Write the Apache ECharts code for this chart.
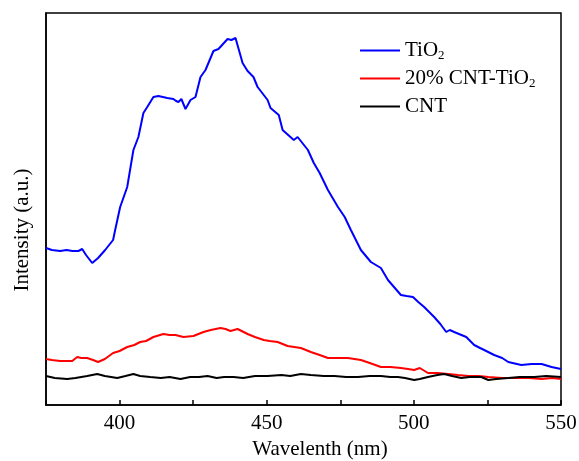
<!DOCTYPE html>
<html><head><meta charset="utf-8">
<script src="https://cdn.jsdelivr.net/npm/echarts@6/dist/echarts.min.js"></script>
<style>html,body{margin:0;padding:0;background:#fff}#c{width:579px;height:461px}</style>
</head><body><div id="c"></div>
<script>
const seriesNames = ['TiO2', '20% CNT-TiO2', 'CNT'];
const xTickLabels = [400, 450, 500, 550];
const tio2 = [[375,157],[377,155],[379.8,154],[382,155],[384,154],[386,154],[387.3,156],[388.6,150],[390.7,142],[392.7,147],[395.1,155],[397.8,165],[398.5,175],[400.2,198],[402.6,218],[404.7,255],[406.4,268],[408.1,292],[409.4,298],[411.5,308],[413.2,309],[416.2,307],[418.3,306],[419.2,304],[420,303],[421,306],[422.4,296],[424.1,305],[425.8,308],[427.5,328],[429.2,335],[431.9,354],[433.6,356],[436.7,366],[438,365],[439.4,367],[441.8,342],[443.5,334],[445.5,328],[446.9,318],[450.3,305],[451.3,297],[454.1,290],[455.4,275],[459.2,265],[460.5,268],[464,255],[466,242],[468,232],[470.8,215],[474.2,198],[476.5,188],[478.6,175],[482,155],[485.4,143],[488.8,137],[491.2,125],[495.6,110],[497.5,109],[499.7,108],[501.5,103],[503.5,98],[506.9,88],[509,81],[511,73],[512.2,75],[513.7,73],[517.8,68],[520.5,60],[522.5,57],[523.9,55],[527.3,50],[530,47],[532.1,43],[536.5,40],[540,41],[543.4,41],[546.8,38],[550,36]];
const cnt_tio2 = [[375,46],[377,45],[379.8,44],[383.9,44],[385.6,48],[387,47],[389,47],[391,45],[392.7,43],[395,46],[397.8,52],[400,54],[402.6,58],[405,60],[407,63],[409,64],[411.5,68],[414.9,71],[417,70],[419,70],[421.7,68],[425.1,69],[428.5,73],[431,75],[434.3,77],[436,76],[437.7,74],[440.1,76],[443.5,71],[446,68],[449,65],[451,64],[453.7,63],[457.1,59],[461.6,57],[465,53],[468,50],[470.8,47],[474,47],[477.6,47],[482,45],[485,42],[488.8,38],[492,38],[495.6,37],[498,36],[500.1,35],[502,37],[504.8,32],[508,32],[511.7,31],[515,30],[518.5,29],[522,29],[525.3,28],[530,27],[534.2,27],[539,27],[543.4,26],[547,27],[550,26]];
const cnt = [[375,29],[378,27],[382.2,26],[385,27],[389,29],[392.4,31],[395,29],[399.2,27],[402,29],[404.7,31],[407,29],[410.4,28],[414,27],[417,28],[420.7,26],[424,28],[427,28],[429.9,29],[433,27],[435.5,28],[438.7,28],[442,27],[446,29],[450.3,29],[455,30],[458,29],[461.6,31],[465,30],[469.4,29],[473,29],[477,28],[481,28],[485,29],[488.8,29],[492,28],[494.6,28],[497,27],[500.1,25],[502,26],[504.8,28],[508,30],[510.3,31],[513,29],[516.1,27],[519,28],[522.9,28],[525.3,25],[528,26],[532.1,27],[536,28],[540.9,28],[545,29],[550,28]];

const serif = '"Liberation Serif","DejaVu Serif",serif';
const chart = echarts.init(document.getElementById('c'), null, {renderer:'canvas'});
const richSub = {
  n: {fontFamily: serif, fontSize: 21, color: '#000'},
  s: {fontFamily: serif, fontSize: 13, color: '#000', padding: [10,0,0,0]}
};
function fmtName(name){
  return name.replace(/(.*TiO)2$/, '{n|$1}{s|2}').replace(/^(CNT)$/, '{n|$1}');
}
chart.setOption({
  animation: false,
  grid: {left: 46, right: 18, top: 13, bottom: 56, outerBoundsMode: 'none', containLabel: false, show: true, borderColor: '#000', borderWidth: 1.5, backgroundColor: 'transparent'},
  legend: {
    orient: 'vertical', left: 355, top: 35, itemWidth: 40, itemHeight: 2, itemGap: 6,
    icon: 'rect',
    formatter: fmtName,
    textStyle: {rich: richSub, fontFamily: serif, fontSize: 21, color: '#000'},
    data: seriesNames
  },
  xAxis: {
    type: 'value', min: 375, max: 550, interval: 25,
    name: 'Wavelenth (nm)', nameLocation: 'middle', nameGap: 32,
    nameTextStyle: {fontFamily: serif, fontSize: 21, color: '#000', padding: [0,0,0,33]},
    axisLine: {show: true, lineStyle: {color: '#000', width: 1.5}},
    axisTick: {show: true, inside: true, length: 5, lineStyle: {color: '#000', width: 1.5}},
    axisLabel: {fontFamily: serif, fontSize: 21, color: '#000', margin: 8,
      formatter: v => xTickLabels.includes(v) ? String(v) : ''},
    splitLine: {show: false}
  },
  yAxis: {
    type: 'value', min: 0, max: 392,
    name: 'Intensity (a.u.)', nameLocation: 'middle', nameGap: 13,
    nameTextStyle: {fontFamily: serif, fontSize: 21, color: '#000', padding: [0,42,0,0]},
    axisLine: {show: true, lineStyle: {color: '#000', width: 1.5}},
    axisTick: {show: false}, axisLabel: {show: false}, splitLine: {show: false}
  },
  series: [
    {name: seriesNames[0], type: 'line', data: tio2, showSymbol: false, lineStyle: {color: '#0000ff', width: 2}, itemStyle: {color: '#0000ff'}},
    {name: seriesNames[1], type: 'line', data: cnt_tio2, showSymbol: false, lineStyle: {color: '#ff0000', width: 2}, itemStyle: {color: '#ff0000'}},
    {name: seriesNames[2], type: 'line', data: cnt, showSymbol: false, lineStyle: {color: '#000000', width: 2}, itemStyle: {color: '#000000'}}
  ]
});
</script></body></html>
